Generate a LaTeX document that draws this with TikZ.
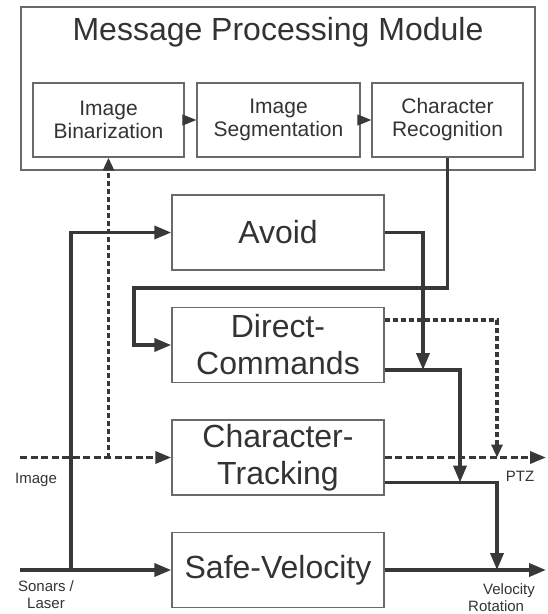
\documentclass[tikz,border=0pt]{standalone}
\usepackage{fontspec}
\setmainfont{Liberation Sans}
\usetikzlibrary{arrows.meta,calc}
\definecolor{ink}{HTML}{333333}
\definecolor{wire}{HTML}{383838}
\definecolor{framegray}{HTML}{6A6A6A}

\begin{document}
\begin{tikzpicture}[x=1pt,y=-1pt,
  every node/.style={text=ink},
  outerbox/.style={draw=framegray, line width=1.4pt, minimum width=514pt, minimum height=163pt, inner sep=0pt},
  subbox/.style={draw=framegray, line width=1.4pt, minimum height=74pt, inner sep=0pt, align=center,
    font=\fontsize{21}{23}\selectfont},
  stage/.style={draw=framegray, line width=1.4pt, minimum width=212pt, minimum height=75pt, inner sep=0pt,
    align=center, font=\fontsize{32}{37}\selectfont},
  lbl/.style={font=\fontsize{15}{17.5}\selectfont, inner sep=0pt},
  flow/.style={draw=wire, line width=3.6pt, -{Triangle[length=17pt,width=13pt]}},
  dashflow/.style={draw=wire, line width=3.4pt, dash pattern=on 7pt off 3.5pt, -{Triangle[length=16pt,width=12pt]}},
  dotflow/.style={draw=wire, line width=3.1pt, dash pattern=on 5pt off 3pt, -{Triangle[length=13pt,width=11pt]}},
  link/.style={draw=wire, line width=1.2pt, -{Triangle[length=14pt,width=11pt]}}
]
\useasboundingbox (0,0) rectangle (547,614);

% message processing module
\node[outerbox] (mpm) at (278,88.5) {};
\node[anchor=base, font=\fontsize{32}{36}\selectfont, inner sep=0pt] (title) at (278,40) {Message Processing Module};
\node[subbox, minimum width=151pt] (bin) at (108.5,120) {Image\\Binarization};
\node[subbox, minimum width=163pt] (seg) at (278.5,120) {Image\\Segmentation};
\node[subbox, minimum width=151pt] (rec) at (447.5,120) {Character\\Recognition};

% behaviour stages
\node[stage] (avoid) at (278,232.5) {Avoid};
\node[stage] (dc) at (278,345) {Direct-\\Commands};
\node[stage] (ct) at (278,457.5) {Character-\\Tracking};
\node[stage] (sv) at (278,570) {Safe-Velocity};

% free ends and bends
\coordinate (sonar) at (20,570);
\coordinate (fork) at (71,570);
\coordinate (image) at (20,457.5);
\coordinate (ptz) at (546,457.5);
\coordinate (vel) at (546,570);
\coordinate (bend) at (134,288);
\coordinate (j1) at (423,370);
\coordinate (j2) at (460,482.5);
\coordinate (j3) at (497,570);
\coordinate (j4) at (497,457.5);

% pipeline inside the module
\draw[link] (bin) -- (seg);
\draw[link] (seg) -- (rec);

% inputs
\draw[flow] (sonar) -- (sv);
\draw[flow] (fork) |- (avoid.west);
\draw[dashflow] (image) -- (ct.west);
\draw[dotflow] (bin.south |- ct.west) -- (bin.south);
\draw[flow] (rec.south) |- (bend) |- (dc.west);

% outputs
\draw[flow] (avoid.east) -| (j1);
\draw[flow] ($(dc.east)+(0,25)$) -| (j2);
\draw[flow] ($(ct.east)+(0,25)$) -| (j3);
\draw[flow] (sv.east) -- (vel);
\draw[dotflow] ($(dc.east)+(0,-25)$) -| (j4);
\draw[dashflow] (ct.east) -- (ptz);

% signal labels
\node[lbl, anchor=base] (limg) at (36,483) {Image};
\node[lbl, anchor=north, align=center] (lson) at (46,580) {Sonars /\\Laser};
\node[lbl, anchor=base] (lptz) at (520,481) {PTZ};
\node[lbl, anchor=north west, align=left] (lvel) at (468,583) {\hspace*{15pt}Velocity\\Rotation};
\end{tikzpicture}
\end{document}
